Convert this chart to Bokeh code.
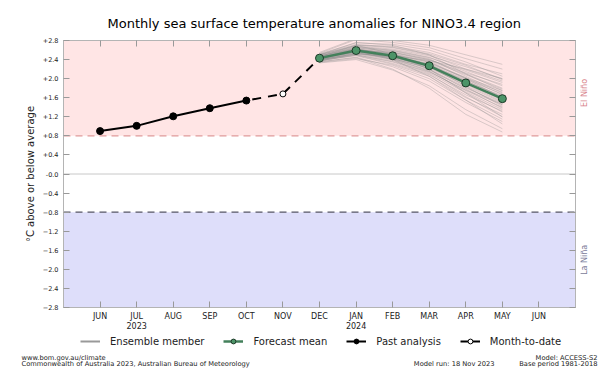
from math import pi
from bokeh.plotting import figure
from bokeh.layouts import column, row
from bokeh.models import (ColumnDataSource, BoxAnnotation, Span, Label, Legend, LegendItem,
                          LinearAxis, FixedTicker, Range1d)
from bokeh.core.properties import value
from bokeh.embed import file_html
from bokeh.resources import INLINE

# ---------------- data ----------------
month_keys = ["2023-06", "2023-07", "2023-08", "2023-09", "2023-10", "2023-11", "2023-12",
              "2024-01", "2024-02", "2024-03", "2024-04", "2024-05", "2024-06"]
month_labels = ["JUN", "JUL\n2023", "AUG", "SEP", "OCT", "NOV", "DEC",
                "JAN\n2024", "FEB", "MAR", "APR", "MAY", "JUN"]

past_months = ["2023-06", "2023-07", "2023-08", "2023-09", "2023-10"]
past_values = [0.90, 1.01, 1.21, 1.38, 1.54]

mtd_month = "2023-11"
mtd_value = 1.68

forecast_months = ["2023-12", "2024-01", "2024-02", "2024-03", "2024-04", "2024-05"]
forecast_mean = [2.43, 2.59, 2.48, 2.27, 1.91, 1.58]

ensemble_members = [
    [2.45, 2.62, 2.55, 2.40, 2.10, 1.80],
    [2.40, 2.55, 2.40, 2.15, 1.75, 1.40],
    [2.50, 2.70, 2.65, 2.50, 2.20, 1.95],
    [2.38, 2.48, 2.30, 2.05, 1.60, 1.25],
    [2.42, 2.60, 2.52, 2.30, 1.95, 1.62],
    [2.47, 2.66, 2.60, 2.45, 2.15, 1.85],
    [2.35, 2.45, 2.25, 1.95, 1.50, 1.10],
    [2.52, 2.75, 2.72, 2.60, 2.35, 2.05],
    [2.44, 2.58, 2.45, 2.25, 1.85, 1.50],
    [2.40, 2.52, 2.38, 2.12, 1.70, 1.30],
    [2.46, 2.64, 2.58, 2.42, 2.05, 1.70],
    [2.33, 2.40, 2.18, 1.85, 1.35, 0.95],
    [2.55, 2.84, 2.80, 2.70, 2.50, 2.30],
    [2.43, 2.56, 2.50, 2.35, 2.00, 1.72],
    [2.41, 2.59, 2.48, 2.20, 1.82, 1.45],
    [2.48, 2.63, 2.50, 2.28, 1.92, 1.58],
    [2.37, 2.50, 2.35, 2.10, 1.62, 1.20],
    [2.50, 2.68, 2.62, 2.48, 2.25, 2.00],
    [2.44, 2.57, 2.40, 2.18, 1.80, 1.48],
    [2.39, 2.54, 2.44, 2.26, 1.90, 1.55],
    [2.45, 2.61, 2.53, 2.36, 2.02, 1.66],
    [2.42, 2.55, 2.42, 2.22, 1.88, 1.52],
    [2.36, 2.44, 2.20, 1.80, 1.25, 0.88],
    [2.49, 2.70, 2.68, 2.55, 2.30, 2.10],
    [2.43, 2.58, 2.46, 2.28, 1.96, 1.60],
    [2.40, 2.52, 2.46, 2.32, 2.02, 1.75],
    [2.46, 2.62, 2.50, 2.25, 1.84, 1.42],
    [2.34, 2.42, 2.28, 2.00, 1.55, 1.15],
    [2.51, 2.72, 2.66, 2.52, 2.28, 1.98],
    [2.44, 2.60, 2.55, 2.38, 2.08, 1.78],
    [2.41, 2.57, 2.44, 2.20, 1.78, 1.38],
    [2.47, 2.65, 2.56, 2.40, 2.12, 1.88],
    [2.38, 2.49, 2.32, 2.08, 1.66, 1.32],
    [2.53, 2.82, 2.76, 2.65, 2.42, 2.20],
    [2.42, 2.56, 2.47, 2.30, 1.98, 1.68],
    [2.45, 2.59, 2.43, 2.16, 1.72, 1.35],
    [2.39, 2.53, 2.41, 2.24, 1.94, 1.64],
    [2.48, 2.67, 2.59, 2.44, 2.18, 1.92],
    [2.43, 2.61, 2.52, 2.34, 2.00, 1.60],
    [2.40, 2.50, 2.36, 2.14, 1.76, 1.46],
    [2.46, 2.70, 2.52, 2.20, 1.70, 1.20],
    [2.37, 2.52, 2.48, 2.38, 2.20, 2.00],
    [2.44, 2.63, 2.40, 2.05, 1.55, 1.05],
    [2.50, 2.76, 2.70, 2.50, 2.10, 1.75],
]

y_ticks = [-2.8, -2.4, -2.0, -1.6, -1.2, -0.8, -0.4, 0.0, 0.4, 0.8, 1.2, 1.6, 2.0, 2.4, 2.8]
y_tick_labels = ["\u22122.8", "\u22122.4", "\u22122.0", "\u22121.6", "\u22121.2", "\u22120.8", "\u22120.4",
                 "-0.0", "+0.4", "+0.8", "+1.2", "+1.6", "+2.0", "+2.4", "+2.8"]

el_nino_threshold = 0.8
la_nina_threshold = -0.8

side_labels = ["El Ni\u00f1o", "La Ni\u00f1a"]
side_label_y = [1.7, -1.8]
side_label_colors = ["#d9848a", "#7c7c98"]

title_text = "Monthly sea surface temperature anomalies for NINO3.4 region"
footer_left = ["www.bom.gov.au/climate",
               "Commonwealth of Australia 2023, Australian Bureau of Meteorology"]
footer_mid = "Model run: 18 Nov 2023"
footer_right = ["Model: ACCESS-S2", "Base period 1981-2018"]

# ---------------- main figure ----------------
FONT = "DejaVu Sans"
idx = {k: i for i, k in enumerate(month_keys)}
x_ticks = list(range(len(month_keys)))

p = figure(width=580, height=334, x_range=Range1d(-1, 13), y_range=Range1d(-2.8, 2.8),
           output_backend="svg", toolbar_location=None,
           min_border_left=63, min_border_right=5, min_border_top=40, min_border_bottom=27)
p.grid.visible = False
p.outline_line_color = "#b4b4b4"
p.background_fill_color = "white"
p.border_fill_color = "white"

p.title.text = title_text
p.title.align = "left"
p.title.offset = 44
p.title.text_font = FONT
p.title.text_font_size = "13px"
p.title.text_font_style = "normal"
p.title.text_color = "black"
p.title.standoff = 19

# bands
p.add_layout(BoxAnnotation(bottom=el_nino_threshold, top=2.8, fill_color="#ffe5e5", fill_alpha=1,
                           line_alpha=0, level="underlay"))
p.add_layout(BoxAnnotation(bottom=-2.8, top=la_nina_threshold, fill_color="#dedefa", fill_alpha=1,
                           line_alpha=0, level="underlay"))
p.add_layout(Span(location=0.0, dimension="width", line_color="#c8c8c8", line_width=1, level="underlay"))
p.add_layout(Span(location=el_nino_threshold, dimension="width", line_color="#e09a9a",
                  line_width=1.3, line_dash="7 5", level="underlay"))
p.add_layout(Span(location=la_nina_threshold, dimension="width", line_color="#555566",
                  line_width=1.3, line_dash="7 5", level="underlay"))

# ensemble
fx = [idx[m] for m in forecast_months]
ens_src = ColumnDataSource(dict(xs=[fx for _ in ensemble_members], ys=ensemble_members))
p.multi_line("xs", "ys", source=ens_src, line_color="#888888", line_alpha=0.32, line_width=1)

# past analysis
px = [idx[m] for m in past_months]
p.line(px, past_values, line_color="black", line_width=2)
p.scatter(px, past_values, size=7, fill_color="black", line_color="black")

# dashed connection to month-to-date and forecast start
p.line([px[-1], idx[mtd_month], fx[0]], [past_values[-1], mtd_value, forecast_mean[0]],
       line_color="black", line_width=2, line_dash="9 7", line_dash_offset=-6)
p.scatter([idx[mtd_month]], [mtd_value], size=6, fill_color="white",
          line_color="black", line_width=1)

# forecast mean
p.line(fx, forecast_mean, line_color="#43805b", line_width=2.5)
p.scatter(fx, forecast_mean, size=8, fill_color="#4c9468", line_color="#1d3a28", line_width=1)

# axes
xaxis = p.xaxis[0]
xaxis.ticker = FixedTicker(ticks=x_ticks)
xaxis.major_label_overrides = {i: lab for i, lab in enumerate(month_labels)}
yaxis = p.yaxis[0]
yaxis.ticker = FixedTicker(ticks=y_ticks)
yaxis.major_label_overrides = {t: lab for t, lab in zip(y_ticks, y_tick_labels)}
yaxis.axis_label = "\u00b0C above or below average"
yaxis.axis_label_text_font = FONT
yaxis.axis_label_text_font_size = "10px"
yaxis.axis_label_text_font_style = "normal"
yaxis.axis_label_text_color = "#222222"
yaxis.axis_label_standoff = 4

for ax in [xaxis, yaxis]:
    ax.major_tick_in = 6
    ax.major_tick_out = 0
    ax.minor_tick_line_color = None
    ax.axis_line_color = "#b4b4b4"
    ax.major_tick_line_color = "#999999"
    ax.major_label_text_font = FONT
    ax.major_label_text_color = "#222222"
xaxis.major_label_text_font_size = "8px"
xaxis.major_label_standoff = 4
yaxis.major_label_text_font_size = "6.5px"
yaxis.major_label_standoff = 5

# top / right: tick marks only (minor ticks -> no labels)
top_axis = LinearAxis(ticker=FixedTicker(ticks=[], minor_ticks=x_ticks))
right_axis = LinearAxis(ticker=FixedTicker(ticks=[], minor_ticks=y_ticks))
for ax in [top_axis, right_axis]:
    ax.major_tick_line_color = None
    ax.minor_tick_in = 6
    ax.minor_tick_out = 0
    ax.minor_tick_line_color = "#999999"
    ax.axis_line_color = "#b4b4b4"
    ax.major_label_standoff = 0
p.add_layout(top_axis, "above")
p.add_layout(right_axis, "right")

# ---------------- side figure (El Nino / La Nina) ----------------
side = figure(width=25, height=334, x_range=Range1d(0, 25), y_range=p.y_range,
              output_backend="svg", toolbar_location=None,
              min_border_left=0, min_border_right=0, min_border_top=40, min_border_bottom=27)
side.axis.visible = False
side.grid.visible = False
side.outline_line_color = None
side.text(x=[4, 4], y=side_label_y, text=side_labels, text_color=side_label_colors,
          angle=pi / 2, text_align="center", text_baseline="middle",
          text_font=value(FONT), text_font_size="8px")

# ---------------- bottom figure (legend + footer) ----------------
bottom = figure(width=605, height=49, x_range=Range1d(0, 605), y_range=Range1d(0, 49),
                output_backend="svg", toolbar_location=None,
                min_border_left=0, min_border_right=0, min_border_top=0, min_border_bottom=0)
bottom.axis.visible = False
bottom.grid.visible = False
bottom.outline_line_color = None
# legend proxies: the real series, drawn on a range that keeps them out of view
bottom.extra_x_ranges = {"offscreen": Range1d(1000, 1001)}
OFF = dict(x_range_name="offscreen")
ens_proxy = bottom.line(fx, ensemble_members[0], line_color="#999999", line_width=2, **OFF)
fm_l = bottom.line(fx, forecast_mean, line_color="#43805b", line_width=2.5, **OFF)
fm_p = bottom.scatter(fx, forecast_mean, size=6, fill_color="#4c9468", line_color="#1d3a28",
                      line_width=1, **OFF)
pa_l = bottom.line(px, past_values, line_color="black", line_width=2, **OFF)
pa_p = bottom.scatter(px, past_values, size=6, fill_color="black", line_color="black", **OFF)
mt_l = bottom.line([idx[mtd_month]], [mtd_value], line_color="black", line_width=2, **OFF)
mt_p = bottom.scatter([idx[mtd_month]], [mtd_value], size=6, fill_color="white",
                      line_color="black", line_width=1, **OFF)

legend = Legend(items=[
    LegendItem(label="Ensemble member", renderers=[ens_proxy]),
    LegendItem(label="Forecast mean", renderers=[fm_l, fm_p]),
    LegendItem(label="Past analysis", renderers=[pa_l, pa_p]),
    LegendItem(label="Month-to-date", renderers=[mt_l, mt_p]),
], location=(80, 36), orientation="horizontal", border_line_alpha=0, background_fill_alpha=0,
    label_text_font=FONT, label_text_font_size="10px", label_text_color="#222222",
    glyph_width=20, glyph_height=12, label_height=12, label_standoff=10, spacing=19,
    padding=0, margin=0)
bottom.add_layout(legend)


def foot(x, y, txt, align):
    bottom.add_layout(Label(x=x, y=y, text=txt, text_align=align, text_baseline="middle",
                            text_font=FONT, text_font_size="6.7px", text_color="#222222"))


foot(21, 26, footer_left[0], "left")
foot(21, 19.5, footer_left[1], "left")
foot(494, 19.5, footer_mid, "right")
foot(597, 26, footer_right[0], "right")
foot(597, 19.5, footer_right[1], "right")

layout = column(row(p, side, spacing=0), bottom, spacing=0)
open("out.html", "w").write(file_html(layout, INLINE))
